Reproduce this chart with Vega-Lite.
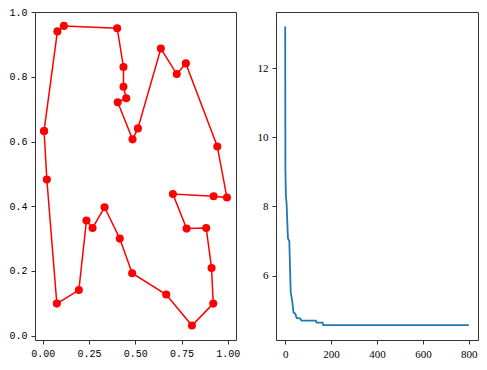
{
  "$schema": "https://vega.github.io/schema/vega-lite/v6.json",
  "padding": {"left": 8, "top": 6, "right": 2, "bottom": 2},
  "bounds": "flush",
  "spacing": 40,
  "background": "white",
  "datasets": {
    "tour": [
      {"order": 1, "x": 0.007, "y": 0.633},
      {"order": 2, "x": 0.079, "y": 0.941},
      {"order": 3, "x": 0.114, "y": 0.958},
      {"order": 4, "x": 0.402, "y": 0.951},
      {"order": 5, "x": 0.436, "y": 0.831},
      {"order": 6, "x": 0.436, "y": 0.770},
      {"order": 7, "x": 0.451, "y": 0.734},
      {"order": 8, "x": 0.405, "y": 0.722},
      {"order": 9, "x": 0.485, "y": 0.607},
      {"order": 10, "x": 0.514, "y": 0.641},
      {"order": 11, "x": 0.638, "y": 0.888},
      {"order": 12, "x": 0.724, "y": 0.809},
      {"order": 13, "x": 0.773, "y": 0.842},
      {"order": 14, "x": 0.943, "y": 0.585},
      {"order": 15, "x": 0.995, "y": 0.427},
      {"order": 16, "x": 0.923, "y": 0.431},
      {"order": 17, "x": 0.703, "y": 0.438},
      {"order": 18, "x": 0.777, "y": 0.331},
      {"order": 19, "x": 0.883, "y": 0.333},
      {"order": 20, "x": 0.912, "y": 0.209},
      {"order": 21, "x": 0.921, "y": 0.099},
      {"order": 22, "x": 0.806, "y": 0.031},
      {"order": 23, "x": 0.667, "y": 0.127},
      {"order": 24, "x": 0.483, "y": 0.193},
      {"order": 25, "x": 0.416, "y": 0.300},
      {"order": 26, "x": 0.334, "y": 0.397},
      {"order": 27, "x": 0.269, "y": 0.333},
      {"order": 28, "x": 0.236, "y": 0.356},
      {"order": 29, "x": 0.195, "y": 0.141},
      {"order": 30, "x": 0.076, "y": 0.099},
      {"order": 31, "x": 0.022, "y": 0.483},
      {"order": 32, "x": 0.007, "y": 0.633}
    ],
    "conv": [
      {"iter": 0, "dist": 13.2},
      {"iter": 1, "dist": 9.1},
      {"iter": 3, "dist": 8.3},
      {"iter": 6, "dist": 8.1},
      {"iter": 12, "dist": 7.08},
      {"iter": 18, "dist": 7.0},
      {"iter": 24, "dist": 5.52},
      {"iter": 30, "dist": 5.3},
      {"iter": 36, "dist": 4.94},
      {"iter": 44, "dist": 4.9},
      {"iter": 50, "dist": 4.78},
      {"iter": 66, "dist": 4.76},
      {"iter": 71, "dist": 4.70},
      {"iter": 134, "dist": 4.70},
      {"iter": 137, "dist": 4.64},
      {"iter": 163, "dist": 4.64},
      {"iter": 166, "dist": 4.57},
      {"iter": 800, "dist": 4.57}
    ]
  },
  "config": {
    "view": {"stroke": "#333", "strokeWidth": 1},
    "axis": {
      "domain": false,
      "grid": false,
      "ticks": true,
      "tickColor": "#333",
      "tickSize": 4,
      "labelPadding": 4,
      "labelColor": "#000",
      "title": null
    }
  },
  "hconcat": [
    {
      "width": 201,
      "height": 328,
      "data": {"name": "tour"},
      "layer": [
        {
          "mark": {"type": "line", "color": "#ff0000", "strokeWidth": 1.5},
          "encoding": {
            "x": {"field": "x", "type": "quantitative", "scale": {"domain": [-0.042, 1.044], "nice": false, "zero": false},
                  "axis": {"values": [0, 0.25, 0.5, 0.75, 1.0], "format": ".2f", "labelFont": "Liberation Mono", "labelFontSize": 10}},
            "y": {"field": "y", "type": "quantitative", "scale": {"domain": [-0.0136, 1.001], "nice": false, "zero": false},
                  "axis": {"values": [0, 0.2, 0.4, 0.6, 0.8, 1.0], "format": ".1f", "labelFont": "Liberation Mono", "labelFontSize": 10}},
            "order": {"field": "order", "type": "quantitative"}
          }
        },
        {
          "mark": {"type": "point", "filled": true, "color": "#ff0000", "opacity": 1, "size": 65},
          "encoding": {
            "x": {"field": "x", "type": "quantitative"},
            "y": {"field": "y", "type": "quantitative"}
          }
        }
      ]
    },
    {
      "width": 202,
      "height": 328,
      "data": {"name": "conv"},
      "mark": {"type": "line", "color": "#1f77b4", "strokeWidth": 1.8},
      "encoding": {
        "x": {"field": "iter", "type": "quantitative", "scale": {"domain": [-40, 840], "nice": false, "zero": false},
              "axis": {"values": [0, 200, 400, 600, 800], "format": "d", "labelFont": "Liberation Sans Narrow", "labelFontSize": 11}},
        "y": {"field": "dist", "type": "quantitative", "scale": {"domain": [4.14, 13.62], "nice": false, "zero": false},
              "axis": {"values": [6, 8, 10, 12], "format": "d", "labelFont": "Liberation Sans Narrow", "labelFontSize": 11}}
      }
    }
  ]
}
